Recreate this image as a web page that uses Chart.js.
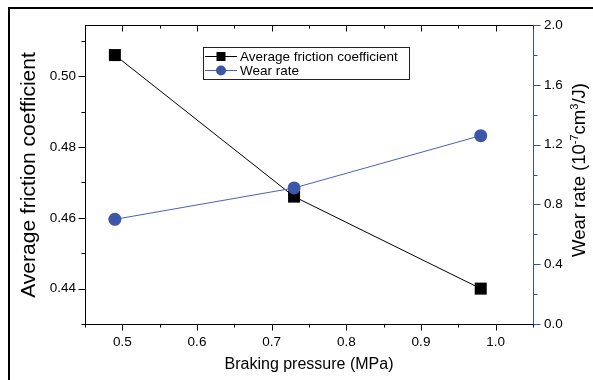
<!DOCTYPE html>
<html><head><meta charset="utf-8">
<script src="https://cdn.jsdelivr.net/npm/chart.js@4/dist/chart.umd.min.js"></script>
<style>html,body{margin:0;padding:0;background:#fff}#wrap{width:593px;height:380px;position:relative}canvas{display:block}</style>
</head><body><div id="wrap"><canvas id="c" width="593" height="380"></canvas></div>
<script>
// ---- data ----
const pressure = [0.49, 0.73, 0.98];
const frictionCoef = [0.506, 0.466, 0.440];
const wearRate = [0.70, 0.91, 1.26];
const xTicks = [0.5, 0.6, 0.7, 0.8, 0.9, 1.0];
const xMinorTicks = [0.45, 0.55, 0.65, 0.75, 0.85, 0.95, 1.05];
const leftTicks = [0.44, 0.46, 0.48, 0.50];
const leftMinorTicks = [0.43, 0.45, 0.47, 0.49, 0.51];
const rightTicks = [0.0, 0.4, 0.8, 1.2, 1.6, 2.0];
const rightMinorTicks = [0.2, 0.6, 1.0, 1.4, 1.8];
const xTitle = 'Braking pressure (MPa)';
const leftTitle = 'Average friction coefficient';
const rightTitleParts = [['Wear rate (10', false], ['-7', true], ['cm', false], ['3', true], ['/J)', false]];
const seriesNames = ['Average friction coefficient', 'Wear rate'];

const FONT = '"Liberation Sans", Arial, sans-serif';
const BLUE = '#3350ad';
const MARK_BLUE = '#3d56a8';

const decor = {
  id: 'decor',
  afterDraw(chart) {
    const ctx = chart.ctx, a = chart.chartArea;
    const sx = chart.scales.x, sy = chart.scales.y, sr = chart.scales.y1;
    ctx.save();
    // outer frame
    ctx.strokeStyle = '#000'; ctx.lineWidth = 2;
    ctx.beginPath(); ctx.moveTo(9, 380); ctx.lineTo(9, 8); ctx.lineTo(593, 8); ctx.stroke();
    ctx.lineWidth = 1;
    const line = (x1, y1, x2, y2, c) => { ctx.strokeStyle = c; ctx.beginPath(); ctx.moveTo(x1, y1); ctx.lineTo(x2, y2); ctx.stroke(); };
    const top = Math.round(a.top) + 0.5, bot = Math.round(a.bottom) + 0.5;
    const L = Math.round(a.left) + 0.5, R = Math.round(a.right) + 0.5;
    line(a.left, top, a.right + 0.5, top, '#000');
    xTicks.forEach(v => { const p = Math.round(sx.getPixelForValue(v)) + 0.5; line(p, bot, p, bot + 6, '#000'); line(p, top, p, top + 6, '#000'); });
    xMinorTicks.forEach(v => { const p = Math.round(sx.getPixelForValue(v)) + 0.5; line(p, bot, p, bot + 3, '#000'); line(p, top, p, top + 3, '#000'); });
    leftTicks.forEach(v => { const p = Math.round(sy.getPixelForValue(v)) + 0.5; line(L - 7, p, L, p, '#000'); });
    leftMinorTicks.forEach(v => { const p = Math.round(sy.getPixelForValue(v)) + 0.5; line(L - 4, p, L, p, '#000'); });
    rightTicks.forEach(v => { const p = Math.round(sr.getPixelForValue(v)) + 0.5; line(R, p, R + 7, p, BLUE); });
    rightMinorTicks.forEach(v => { const p = Math.round(sr.getPixelForValue(v)) + 0.5; line(R, p, R + 4, p, BLUE); });

    // titles
    ctx.fillStyle = '#000';
    ctx.font = '21px ' + FONT; ctx.textAlign = 'center'; ctx.textBaseline = 'middle';
    ctx.save(); ctx.translate(29, 175); ctx.rotate(-Math.PI / 2); ctx.fillText(leftTitle, 0, 0); ctx.restore();
    ctx.font = '16px ' + FONT;
    ctx.fillText(xTitle, (a.left + a.right) / 2, 365);
    // right title with superscripts
    ctx.save(); ctx.translate(580, 170); ctx.rotate(-Math.PI / 2);
    const big = '18.5px ' + FONT, small = '11px ' + FONT;
    let w = 0;
    rightTitleParts.forEach(([t, sup]) => { ctx.font = sup ? small : big; w += ctx.measureText(t).width; });
    let x = -w / 2; ctx.textAlign = 'left'; ctx.textBaseline = 'middle';
    rightTitleParts.forEach(([t, sup]) => { ctx.font = sup ? small : big; ctx.fillText(t, x, sup ? -5 : 0); x += ctx.measureText(t).width; });
    ctx.restore();

    // legend
    ctx.strokeStyle = '#222';
    ctx.strokeRect(203.5, 47.5, 206, 32);
    const ds = chart.data.datasets;
    const rows = [56.5, 70.5];
    ctx.font = '13.5px ' + FONT; ctx.textAlign = 'left'; ctx.textBaseline = 'middle';
    [0, 1].forEach(i => {
      const d = ds[i], y = rows[i];
      line(205, y, 237, y, d.borderColor);
      ctx.fillStyle = d.pointBackgroundColor;
      if (d.pointStyle === 'rect') ctx.fillRect(216.5, y - 4.5, 9, 9);
      else { ctx.beginPath(); ctx.arc(221, y, 5, 0, Math.PI * 2); ctx.fill(); }
      ctx.fillStyle = '#000';
      ctx.fillText(seriesNames[i], 240, y + 0.5);
    });
    ctx.restore();
  }
};

const tickFont = { family: FONT, size: 13.5 };
new Chart(document.getElementById('c'), {
  type: 'line',
  data: {
    datasets: [
      {
        label: seriesNames[0],
        data: pressure.map((p, i) => ({ x: p, y: frictionCoef[i] })),
        yAxisID: 'y', borderColor: '#000', borderWidth: 1,
        pointStyle: 'rect', pointRadius: 8.5, pointBackgroundColor: '#000', pointBorderColor: '#000', pointBorderWidth: 0,
        tension: 0, order: 1, clip: false
      },
      {
        label: seriesNames[1],
        data: pressure.map((p, i) => ({ x: p, y: wearRate[i] })),
        yAxisID: 'y1', borderColor: '#4662bd', borderWidth: 1,
        pointStyle: 'circle', pointRadius: 6.5, pointBackgroundColor: MARK_BLUE, pointBorderColor: MARK_BLUE, pointBorderWidth: 0,
        tension: 0, order: 0, clip: false
      }
    ]
  },
  options: {
    responsive: false, animation: false, devicePixelRatio: 1,
    layout: { padding: { top: 25, left: 0, right: 0, bottom: 0 } },
    plugins: { legend: { display: false }, tooltip: { enabled: false } },
    scales: {
      x: {
        type: 'linear', position: 'bottom', min: 0.45, max: 1.05,
        afterBuildTicks: s => { s.ticks = xTicks.map(v => ({ value: v })); },
        ticks: { callback: v => Number(v).toFixed(1), padding: 10, font: tickFont, color: '#000', maxRotation: 0, autoSkip: false },
        grid: { display: false, drawTicks: false },
        border: { display: true, color: '#000', width: 1 },
        afterFit: s => { s.height = 56; }
      },
      y: {
        type: 'linear', position: 'left', min: 0.43, max: 0.5145,
        afterBuildTicks: s => { s.ticks = leftTicks.map(v => ({ value: v })); },
        ticks: { callback: v => Number(v).toFixed(2), padding: 9, font: tickFont, color: '#000', autoSkip: false },
        grid: { display: false, drawTicks: false },
        border: { display: true, color: '#000', width: 1 },
        afterFit: s => { s.width = 85; }
      },
      y1: {
        type: 'linear', position: 'right', min: 0, max: 2,
        afterBuildTicks: s => { s.ticks = rightTicks.map(v => ({ value: v })); },
        ticks: { callback: v => Number(v).toFixed(1), padding: 11, font: tickFont, color: '#000', autoSkip: false },
        grid: { display: false, drawTicks: false },
        border: { display: true, color: BLUE, width: 1 },
        afterFit: s => { s.width = 60; }
      }
    }
  },
  plugins: [decor]
});
</script>
</body></html>
